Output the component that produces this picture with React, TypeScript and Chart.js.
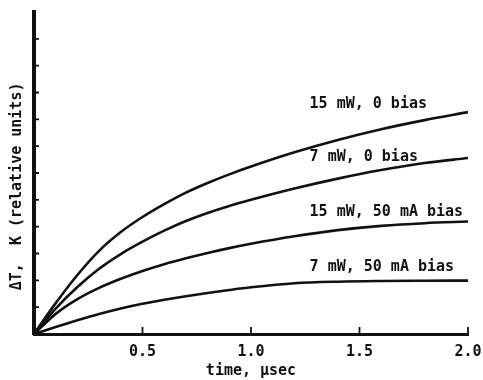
import React, { useEffect, useRef } from 'react';
import { Chart, registerables } from 'chart.js';

Chart.register(...registerables);

// ---- data ----
const timeUsec = [0, 0.1, 0.2, 0.3, 0.4, 0.5, 0.6, 0.7, 0.8, 0.9, 1.0, 1.2, 1.4, 1.6, 1.8, 2.0];
const dT_15mW_0bias = [0, 1.15, 2.2, 3.1, 3.8, 4.36, 4.84, 5.27, 5.63, 5.95, 6.24, 6.77, 7.23, 7.63, 7.97, 8.27];
const dT_7mW_0bias = [0, 0.95, 1.75, 2.43, 2.98, 3.44, 3.85, 4.21, 4.51, 4.77, 5.0, 5.42, 5.79, 6.11, 6.37, 6.56];
const dT_15mW_50mA = [0, 0.75, 1.3, 1.72, 2.06, 2.35, 2.6, 2.82, 3.02, 3.2, 3.36, 3.64, 3.87, 4.03, 4.13, 4.19];
const dT_7mW_50mA = [0, 0.26, 0.51, 0.745, 0.95, 1.125, 1.275, 1.41, 1.53, 1.64, 1.74, 1.89, 1.95, 1.975, 1.985, 1.99];
const seriesLabels = ['15 mW, 0 bias', '7 mW, 0 bias', '15 mW, 50 mA bias', '7 mW, 50 mA bias'];
const xTickValues = [0.5, 1.0, 1.5, 2.0];
const yTickValues = [1, 2, 3, 4, 5, 6, 7, 8, 9, 10, 11];
const xTitle = 'time, μsec';
const yTitle = 'ΔT,  K (relative units)';

const INK = '#111';
const FONT = "'DejaVu Sans Mono', monospace";

// label anchors in data units (left edge x, vertical centre y)
const labelAnchors = [
  { x: 1.27, y: 8.55 },
  { x: 1.27, y: 6.6 },
  { x: 1.27, y: 4.55 },
  { x: 1.27, y: 2.5 },
];

const annotatePlugin = {
  id: 'annotate',
  afterDraw(chart: any) {
    const { ctx, scales, chartArea } = chart;
    const xs = scales.x;
    const ys = scales.y;
    ctx.save();
    // inner tick marks
    ctx.strokeStyle = INK;
    ctx.lineWidth = 1.8;
    ctx.beginPath();
    yTickValues.forEach((v) => {
      const py = ys.getPixelForValue(v);
      ctx.moveTo(chartArea.left, py);
      ctx.lineTo(chartArea.left + 5, py);
    });
    xTickValues.forEach((v) => {
      const px = xs.getPixelForValue(v);
      ctx.moveTo(px, chartArea.bottom);
      ctx.lineTo(px, chartArea.bottom - 7);
    });
    ctx.stroke();

    // curve labels
    ctx.fillStyle = INK;
    ctx.font = `bold 15px ${FONT}`;
    ctx.textAlign = 'left';
    ctx.textBaseline = 'middle';
    seriesLabels.forEach((label, i) => {
      const a = labelAnchors[i];
      ctx.fillText(label, xs.getPixelForValue(a.x), ys.getPixelForValue(a.y));
    });

    // y axis title
    ctx.translate(17, ys.getPixelForValue(5.5));
    ctx.rotate(-Math.PI / 2);
    ctx.textAlign = 'center';
    ctx.fillText(yTitle, 0, 0);
    ctx.restore();
  },
};

const makeSeries = (label: string, values: number[]) => ({
  label,
  data: timeUsec.map((t, i) => ({ x: t, y: values[i] })),
  borderColor: INK,
  borderWidth: 2.6,
  pointRadius: 0,
  fill: false,
  cubicInterpolationMode: 'monotone' as const,
});

export default function App() {
  const canvasRef = useRef<HTMLCanvasElement | null>(null);

  useEffect(() => {
    if (!canvasRef.current) return;
    const chart = new Chart(canvasRef.current, {
      type: 'line',
      data: {
        datasets: [
          makeSeries(seriesLabels[0], dT_15mW_0bias),
          makeSeries(seriesLabels[1], dT_7mW_0bias),
          makeSeries(seriesLabels[2], dT_15mW_50mA),
          makeSeries(seriesLabels[3], dT_7mW_50mA),
        ],
      },
      options: {
        responsive: false,
        animation: false,
        devicePixelRatio: 1,
        layout: { padding: { left: 0, right: 15, top: 12, bottom: 0 } },
        plugins: {
          legend: { display: false },
          tooltip: { enabled: false },
          title: { display: false },
        },
        scales: {
          x: {
            type: 'linear',
            min: 0,
            max: 2,
            grid: { display: false, drawTicks: false },
            border: { display: true, color: INK, width: 3 },
            afterBuildTicks: (scale: any) => {
              scale.ticks = xTickValues.map((v) => ({ value: v }));
            },
            afterFit: (scale: any) => {
              scale.height = 46;
              scale.paddingLeft = 0;
              scale.paddingRight = 0;
            },
            ticks: {
              color: INK,
              padding: 9,
              maxRotation: 0,
              autoSkip: false,
              font: { family: FONT, size: 15, weight: 'bold' },
              callback: (v: any) => Number(v).toFixed(1),
            },
            title: {
              display: true,
              text: xTitle,
              color: INK,
              padding: { top: 0, bottom: 0 },
              font: { family: FONT, size: 15, weight: 'bold' },
            },
          },
          y: {
            type: 'linear',
            min: 0,
            max: 12,
            grid: { display: false, drawTicks: false },
            border: { display: true, color: INK, width: 4 },
            ticks: { display: false },
            afterFit: (scale: any) => {
              scale.width = 34;
            },
          },
        },
      },
      plugins: [annotatePlugin],
    });
    return () => chart.destroy();
  }, []);

  return (
    <div style={{ position: 'absolute', left: 0, top: 0, width: 483, height: 380, background: '#fff' }}>
      <canvas ref={canvasRef} width={483} height={380} />
    </div>
  );
}
